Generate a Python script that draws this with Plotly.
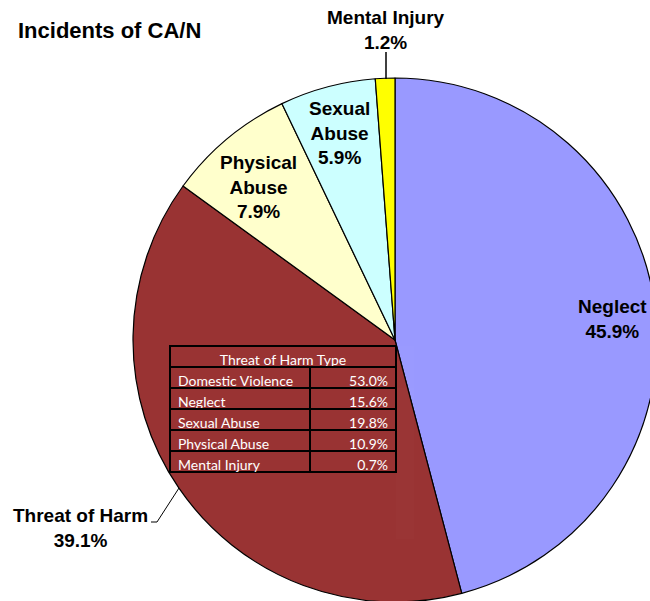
import plotly.graph_objects as go

# ---- data ----
categories = ["Neglect", "Threat of Harm", "Physical Abuse", "Sexual Abuse", "Mental Injury"]
values = [45.9, 39.1, 7.9, 5.9, 1.2]
colors = ["#9999FF", "#993333", "#FFFFCC", "#CCFFFF", "#FFFF00"]

toh_types = ["Domestic Violence", "Neglect", "Sexual Abuse", "Physical Abuse", "Mental Injury"]
toh_values = [53.0, 15.6, 19.8, 10.9, 0.7]
toh_title = "Threat of Harm Type"
chart_title = "Incidents of CA/N"

# figure is slightly larger than the 650x601 view; the pie is cropped at the edges like the original
W, H = 660, 604

def px(x):
    return x / W

def py(y):
    return 1 - y / H

fig = go.Figure()

fig.add_trace(go.Pie(
    labels=categories,
    values=values,
    sort=False,
    direction="clockwise",
    rotation=0,
    marker=dict(colors=colors, line=dict(color="black", width=1.2)),
    textinfo="none",
    hoverinfo="skip",
    showlegend=False,
    domain=dict(x=[px(133), px(657)], y=[py(602), py(78)]),
))

# Inset table: title row and body
tbl_x = [px(170), px(396)]
fill = colors[1]
tfont = dict(family="Lato", size=14, color="white")
pct = [f"{v:.1f}%" for v in toh_values]
fig.add_trace(go.Table(
    domain=dict(x=tbl_x, y=[py(400), py(346)]),
    header=dict(values=[toh_title], height=21, fill_color=fill,
                line=dict(color="black", width=2), align="center", font=tfont),
    cells=dict(values=[[]]),
))
fig.add_trace(go.Table(
    domain=dict(x=tbl_x, y=[py(540), py(367)]),
    columnwidth=[140, 86],
    header=dict(values=[toh_types[0], pct[0]], height=21, fill_color=fill,
                line=dict(color="black", width=2), align=["left", "right"], font=tfont),
    cells=dict(values=[toh_types[1:], pct[1:]],
               height=21, fill_color=fill,
               line=dict(color="black", width=2), align=["left", "right"], font=tfont),
))

# Slice labels
label_pos = {
    "Neglect": (612, 319),
    "Threat of Harm": (80, 528),
    "Physical Abuse": (258, 187),
    "Sexual Abuse": (339, 133),
    "Mental Injury": (386, 30),
}
for name, v in zip(categories, values):
    nm = name.replace(" ", "<br>") if name in ("Physical Abuse", "Sexual Abuse") else name
    x, y = label_pos[name]
    fig.add_annotation(
        x=px(x), y=py(y), xref="paper", yref="paper",
        text=f"<b>{nm}<br>{v:.1f}%</b>", showarrow=False,
        xanchor="center", yanchor="middle", align="center",
        font=dict(family="Liberation Sans, Arial", size=19, color="black"),
    )

# leader lines
fig.add_shape(type="line", xref="paper", yref="paper",
              x0=px(386), y0=py(52), x1=px(386), y1=py(79),
              line=dict(color="black", width=1.5))
fig.add_shape(type="path", xref="paper", yref="paper",
              path=f"M {px(151)},{py(522)} L {px(157)},{py(522)} L {px(179)},{py(488)}",
              line=dict(color="black", width=1))

fig.add_annotation(
    x=px(16), y=py(31), xref="paper", yref="paper",
    text=f"<b>{chart_title}</b>", showarrow=False,
    xanchor="left", yanchor="middle",
    font=dict(family="Liberation Sans, Arial", size=22, color="black"),
)

fig.update_layout(
    width=W, height=H,
    margin=dict(l=0, r=0, t=0, b=0),
    paper_bgcolor="white", plot_bgcolor="white",
)

fig.write_html("out.html", config={"displayModeBar": False},
               post_script="document.body.style.margin='0px';document.body.style.overflow='hidden';")
